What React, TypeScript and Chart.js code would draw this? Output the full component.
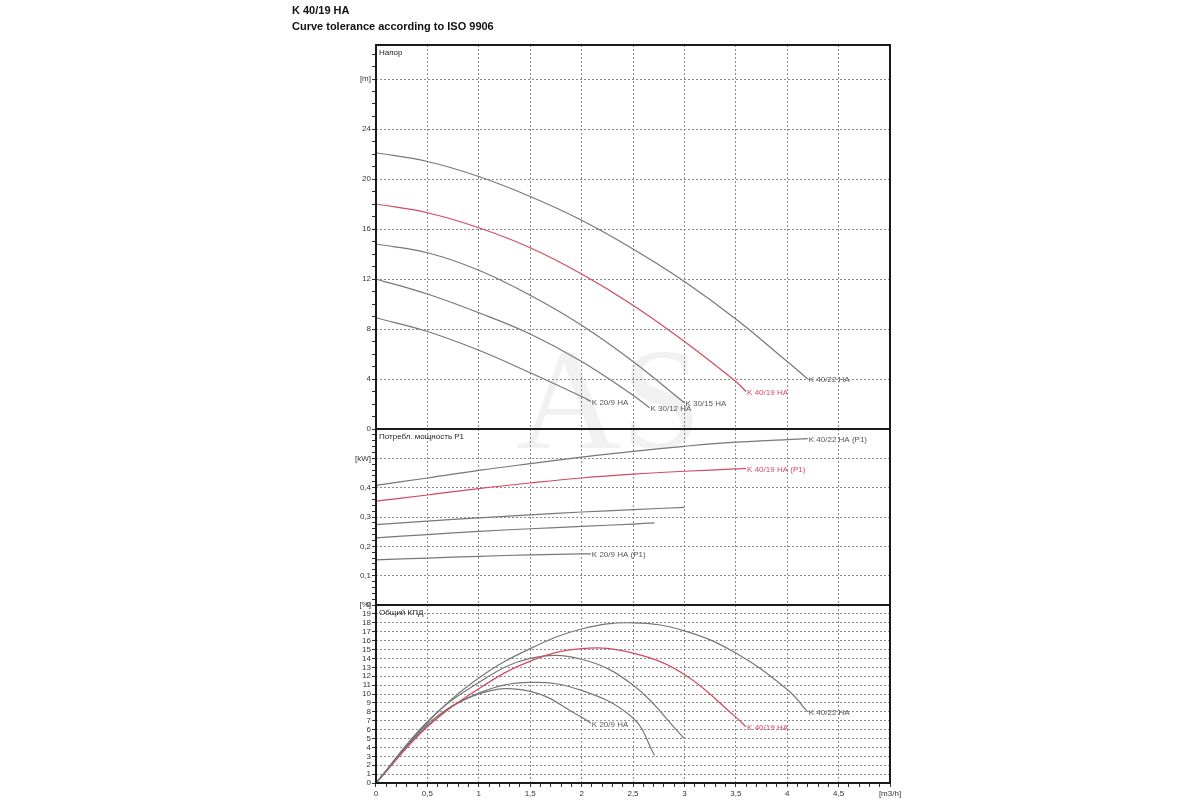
import { useEffect, useRef } from "react"
import { Chart, registerables } from "chart.js"

Chart.register(...registerables)

// Напор (head), m
const flowHead4022 = [0, 0.5, 1, 1.5, 2, 2.5, 3, 3.5, 4, 4.2]
const head4022 = [22.1, 21.4, 20.2, 18.6, 16.7, 14.4, 11.8, 8.8, 5.4, 4.0]
const flowHead4019 = [0, 0.5, 1, 1.5, 2, 2.5, 3, 3.5, 3.6]
const head4019 = [18.0, 17.3, 16.1, 14.5, 12.4, 9.9, 7.0, 3.8, 3.0]
const flowHead3015 = [0, 0.5, 1, 1.5, 2, 2.5, 3]
const head3015 = [14.8, 14.1, 12.7, 10.7, 8.3, 5.4, 2.1]
const flowHead3012 = [0, 0.5, 1, 1.5, 2, 2.5, 2.66]
const head3012 = [12.0, 10.8, 9.3, 7.6, 5.4, 2.7, 1.7]
const flowHead209 = [0, 0.5, 1, 1.5, 2, 2.09]
const head209 = [8.9, 7.8, 6.3, 4.5, 2.6, 2.2]

// Потребл. мощность P1, kW
const flowPow4022 = [0, 0.5, 1, 1.5, 2, 2.5, 3, 3.5, 4, 4.2]
const pow4022 = [0.408, 0.433, 0.459, 0.482, 0.504, 0.524, 0.541, 0.555, 0.564, 0.567]
const flowPow4019 = [0, 0.5, 1, 1.5, 2, 2.5, 3, 3.5, 3.6]
const pow4019 = [0.354, 0.375, 0.397, 0.416, 0.433, 0.446, 0.456, 0.464, 0.466]
const flowPow3015 = [0, 0.5, 1, 1.5, 2, 2.5, 3]
const pow3015 = [0.274, 0.286, 0.297, 0.307, 0.317, 0.325, 0.333]
const flowPow3012 = [0, 0.5, 1, 1.5, 2, 2.5, 2.71]
const pow3012 = [0.229, 0.24, 0.251, 0.26, 0.268, 0.276, 0.28]
const flowPow209 = [0, 0.5, 1, 1.5, 2, 2.09]
const pow209 = [0.154, 0.16, 0.166, 0.171, 0.174, 0.174]

// Общий КПД, %
const flowEff4022 = [0, 0.5, 1, 1.5, 2, 2.5, 3, 3.5, 4, 4.2]
const eff4022 = [0, 6.8, 11.8, 15.1, 17.3, 18.0, 17.1, 14.6, 10.5, 8.0]
const flowEff4019 = [0, 0.5, 1, 1.5, 2, 2.5, 3, 3.5, 3.6]
const eff4019 = [0, 6.3, 10.6, 13.7, 15.1, 14.6, 12.2, 7.4, 6.3]
const flowEff3015 = [0, 0.5, 1, 1.5, 2, 2.5, 3]
const eff3015 = [0, 6.9, 11.3, 14.0, 13.9, 11.0, 5.0]
const flowEff3012 = [0, 0.5, 1, 1.5, 2, 2.5, 2.71]
const eff3012 = [0, 6.6, 10.1, 11.3, 10.4, 7.3, 3.1]
const flowEff209 = [0, 0.5, 1, 1.5, 2, 2.09]
const eff209 = [0, 6.4, 10.0, 10.3, 7.4, 6.7]

// axis ticks
const flowTicks = [0, 0.5, 1, 1.5, 2, 2.5, 3, 3.5, 4, 4.5, 5]
const flowTickLabels = ["0", "0,5", "1", "1,5", "2", "2,5", "3", "3,5", "4", "4,5", "[m3/h]"]
const headTicks = [0, 4, 8, 12, 16, 20, 24, 28]
const headTickLabels = ["0", "4", "8", "12", "16", "20", "24", "[m]"]
const powerTicks = [0, 0.1, 0.2, 0.3, 0.4, 0.5]
const powerTickLabels = ["0", "0,1", "0,2", "0,3", "0,4", "[kW]"]
const effTicks = [0, 1, 2, 3, 4, 5, 6, 7, 8, 9, 10, 11, 12, 13, 14, 15, 16, 17, 18, 19, 20]
const effTickLabels = ["0", "1", "2", "3", "4", "5", "6", "7", "8", "9", "10", "11", "12", "13", "14", "15", "16", "17", "18", "19", "[%]"]

const GRAY = "#777"
const RED = "#d24a5e"
const GRID = "#8c8c8c"
const FONT = "Liberation Sans, Arial, sans-serif"

const pts = (xs: number[], ys: number[]) => xs.map((x, i) => ({ x, y: ys[i] }))

const minorTicks = (max: number, step: number) => {
  const out: { value: number }[] = []
  for (let k = 0; k * step <= max + 1e-9; k++) out.push({ value: Math.round(k * step * 1000) / 1000 })
  return out
}

const findMajor = (majors: number[], v: number) => majors.findIndex((m) => Math.abs(m - v) < 1e-6)

const yAxis = (
  max: number,
  step: number,
  majors: number[],
  labels: string[],
  weight: number,
  stackWeight: number
) => ({
  type: "linear" as const,
  position: "left" as const,
  stack: "panels",
  stackWeight,
  weight,
  min: 0,
  max,
  afterBuildTicks: (scale: any) => {
    scale.ticks = minorTicks(max, step)
  },
  afterFit: (scale: any) => {
    scale.width = 40
  },
  ticks: {
    autoSkip: false,
    padding: 1,
    color: "#333",
    font: { family: FONT, size: 8 },
    callback: (value: any) => {
      const i = findMajor(majors, Number(value))
      return i >= 0 ? labels[i] : ""
    },
  },
  grid: {
    tickLength: 4,
    tickColor: "#333",
    color: (ctx: any) => {
      const v = ctx.tick ? ctx.tick.value : -1
      return findMajor(majors, v) > 0 ? GRID : "rgba(0,0,0,0)"
    },
  },
  border: { display: false, dash: [2, 2] },
})

export default function App() {
  const canvasRef = useRef<HTMLCanvasElement>(null)
  const chartRef = useRef<Chart | null>(null)

  useEffect(() => {
    if (!canvasRef.current) return
    const ctx = canvasRef.current.getContext("2d")
    if (!ctx) return

    const line = (label: string, data: any[], axis: string, color: string, endLabel?: string) => ({
      label,
      data,
      yAxisID: axis,
      borderColor: color,
      borderWidth: 1.2,
      pointRadius: 0,
      fill: false,
      tension: 0.4,
      endLabel,
      endColor: color === RED ? RED : "#555",
    })

    const panelPlugin = {
      id: "panels",
      beforeDatasetsDraw(chart: any) {
        const c = chart.ctx
        // faint watermark behind the curves
        c.save()
        c.font = "145px Liberation Serif, serif"
        c.fillStyle = "rgba(0,0,0,0.055)"
        c.textAlign = "center"
        c.textBaseline = "alphabetic"
        c.fillText("AS", 609, 448)
        c.restore()
      },
      afterDatasetsDraw(chart: any) {
        const c = chart.ctx
        c.save()
        c.font = `8px ${FONT}`
        c.textAlign = "left"
        c.textBaseline = "middle"
        chart.data.datasets.forEach((ds: any, i: number) => {
          if (!ds.endLabel) return
          const meta = chart.getDatasetMeta(i)
          const last = meta.data[meta.data.length - 1]
          c.fillStyle = ds.endColor
          c.fillText(ds.endLabel, last.x + 1, last.y + 1)
        })
        const area = chart.chartArea
        const titles: [string, string][] = [
          ["yH", "Напор"],
          ["yP", "Потребл. мощность P1"],
          ["yE", "Общий КПД"],
        ]
        c.fillStyle = "#222"
        c.textBaseline = "top"
        titles.forEach(([id, t]) => {
          c.fillText(t, area.left + 3, chart.scales[id].top + 4)
        })
        c.strokeStyle = "#1a1a1a"
        c.lineWidth = 2
        titles.forEach(([id]) => {
          const s = chart.scales[id]
          c.strokeRect(area.left, s.top, area.right - area.left, s.bottom - s.top)
        })
        c.restore()
      },
    }

    chartRef.current = new Chart(ctx, {
      type: "line",
      data: {
        datasets: [
          line("K 40/22 HA", pts(flowHead4022, head4022), "yH", GRAY, "K 40/22 HA"),
          line("K 40/19 HA", pts(flowHead4019, head4019), "yH", RED, "K 40/19 HA"),
          line("K 30/15 HA", pts(flowHead3015, head3015), "yH", GRAY, "K 30/15 HA"),
          line("K 30/12 HA", pts(flowHead3012, head3012), "yH", GRAY, "K 30/12 HA"),
          line("K 20/9 HA", pts(flowHead209, head209), "yH", GRAY, "K 20/9 HA"),
          line("K 40/22 HA (P1)", pts(flowPow4022, pow4022), "yP", GRAY, "K 40/22 HA (P1)"),
          line("K 40/19 HA (P1)", pts(flowPow4019, pow4019), "yP", RED, "K 40/19 HA (P1)"),
          line("K 30/15 HA (P1)", pts(flowPow3015, pow3015), "yP", GRAY),
          line("K 30/12 HA (P1)", pts(flowPow3012, pow3012), "yP", GRAY),
          line("K 20/9 HA (P1)", pts(flowPow209, pow209), "yP", GRAY, "K 20/9 HA (P1)"),
          line("K 40/22 HA КПД", pts(flowEff4022, eff4022), "yE", GRAY, "K 40/22 HA"),
          line("K 40/19 HA КПД", pts(flowEff4019, eff4019), "yE", RED, "K 40/19 HA"),
          line("K 30/15 HA КПД", pts(flowEff3015, eff3015), "yE", GRAY),
          line("K 30/12 HA КПД", pts(flowEff3012, eff3012), "yE", GRAY),
          line("K 20/9 HA КПД", pts(flowEff209, eff209), "yE", GRAY, "K 20/9 HA"),
        ] as any,
      },
      options: {
        animation: false,
        responsive: true,
        maintainAspectRatio: false,
        layout: { padding: { left: 336, right: 310, top: 45, bottom: 0 } },
        plugins: {
          legend: { display: false },
          tooltip: { enabled: false },
        },
        scales: {
          x: {
            type: "linear",
            position: "bottom",
            min: 0,
            max: 5,
            afterBuildTicks: (scale: any) => {
              scale.ticks = minorTicks(5, 0.1)
            },
            afterFit: (scale: any) => {
              scale.height = 17
            },
            ticks: {
              autoSkip: false,
              maxRotation: 0,
              padding: 2,
              color: "#333",
              font: { family: FONT, size: 8 },
              callback: (value: any) => {
                const i = findMajor(flowTicks, Number(value))
                return i >= 0 ? flowTickLabels[i] : ""
              },
            },
            grid: {
              tickLength: 4,
              tickColor: "#333",
              color: (c: any) => {
                const v = c.tick ? c.tick.value : -1
                const i = findMajor(flowTicks, v)
                return i > 0 && i < flowTicks.length - 1 ? GRID : "rgba(0,0,0,0)"
              },
            },
            border: { display: false, dash: [2, 2] },
          },
          yH: yAxis(30.72, 1, headTicks, headTickLabels, 3, 384),
          yP: yAxis(0.6, 0.02, powerTicks, powerTickLabels, 2, 176),
          yE: yAxis(20, 1, effTicks, effTickLabels, 1, 178),
        } as any,
      },
      plugins: [panelPlugin],
    })

    return () => {
      if (chartRef.current) chartRef.current.destroy()
    }
  }, [])

  return (
    <div style={{ position: "fixed", left: 0, top: 0, width: 1200, height: 800, background: "#fff" }}>
      <div
        style={{
          position: "absolute",
          left: 292,
          top: 2,
          fontFamily: FONT,
          fontWeight: "bold",
          fontSize: 11,
          lineHeight: "16px",
          color: "#111",
        }}
      >
        <div>K 40/19 HA</div>
        <div>Curve tolerance according to ISO 9906</div>
      </div>
      <canvas ref={canvasRef} style={{ width: "100%", height: "100%" }} />
    </div>
  )
}
